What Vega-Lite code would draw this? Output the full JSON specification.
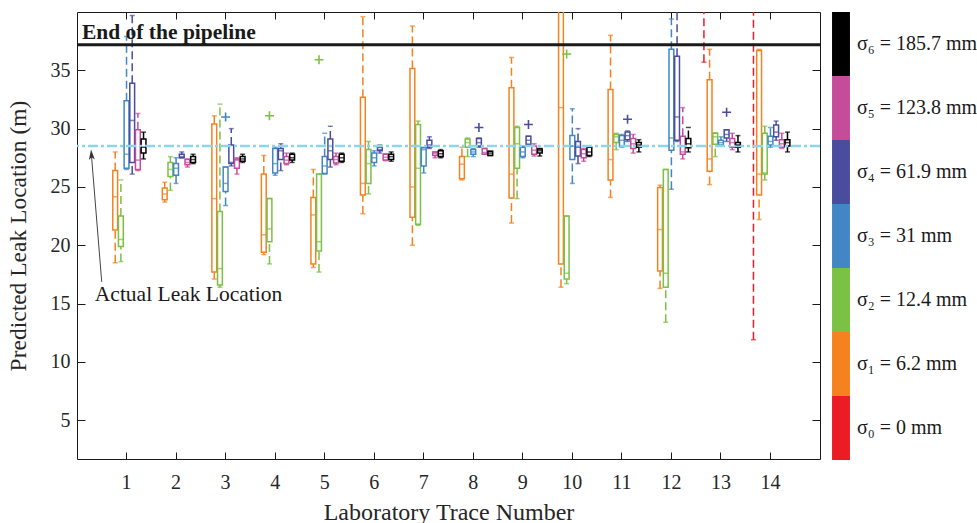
{
  "$schema": "https://vega.github.io/schema/vega-lite/v6.json",
  "width": 743,
  "height": 447,
  "autosize": {"type": "none"},
  "padding": {"left": 77, "top": 12, "right": 157, "bottom": 64},
  "background": "white",
  "datasets": {
    "boxes": [
      {"trace": 1, "sigma": "σ₁ = 6.2 mm", "lo": 18.5, "q1": 21.3, "median": 24.15, "q3": 26.4, "hi": 28.0},
      {"trace": 1, "sigma": "σ₂ = 12.4 mm", "lo": 18.6, "q1": 19.9, "median": 20.5, "q3": 22.5, "hi": 25.6},
      {"trace": 1, "sigma": "σ₃ = 31 mm", "lo": 26.5, "q1": 26.6, "median": 27.8, "q3": 32.4, "hi": 37.9},
      {"trace": 1, "sigma": "σ₄ = 61.9 mm", "lo": 26.1, "q1": 27.1, "median": 30.7, "q3": 33.9, "hi": 39.7},
      {"trace": 1, "sigma": "σ₅ = 123.8 mm", "lo": 26.4, "q1": 26.5, "median": 27.3, "q3": 29.9, "hi": 31.3},
      {"trace": 1, "sigma": "σ₆ = 185.7 mm", "lo": 27.4, "q1": 27.9, "median": 28.4, "q3": 29.1, "hi": 29.7},
      {"trace": 2, "sigma": "σ₁ = 6.2 mm", "lo": 23.7, "q1": 23.9, "median": 24.4, "q3": 24.9, "hi": 25.4},
      {"trace": 2, "sigma": "σ₂ = 12.4 mm", "lo": 24.7, "q1": 25.9, "median": 26.5, "q3": 27.1, "hi": 27.6},
      {"trace": 2, "sigma": "σ₃ = 31 mm", "lo": 25.3, "q1": 26.0, "median": 26.6, "q3": 27.0, "hi": 27.5},
      {"trace": 2, "sigma": "σ₄ = 61.9 mm", "lo": 27.5, "q1": 27.5, "median": 27.6, "q3": 27.8, "hi": 28.0},
      {"trace": 2, "sigma": "σ₅ = 123.8 mm", "lo": 26.7, "q1": 26.9, "median": 27.1, "q3": 27.35, "hi": 27.4},
      {"trace": 2, "sigma": "σ₆ = 185.7 mm", "lo": 27.0, "q1": 27.1, "median": 27.35, "q3": 27.6, "hi": 27.8},
      {"trace": 3, "sigma": "σ₁ = 6.2 mm", "lo": 17.1, "q1": 17.7, "median": 24.0, "q3": 30.4, "hi": 31.1},
      {"trace": 3, "sigma": "σ₂ = 12.4 mm", "lo": 16.4, "q1": 16.6, "median": 18.0, "q3": 22.9, "hi": 32.1},
      {"trace": 3, "sigma": "σ₃ = 31 mm", "lo": 23.4, "q1": 24.6, "median": 25.3, "q3": 26.7, "hi": 26.7},
      {"trace": 3, "sigma": "σ₄ = 61.9 mm", "lo": 26.8, "q1": 27.0, "median": 27.1, "q3": 28.6, "hi": 30.0},
      {"trace": 3, "sigma": "σ₅ = 123.8 mm", "lo": 26.1, "q1": 26.6, "median": 27.3, "q3": 27.4, "hi": 27.5},
      {"trace": 3, "sigma": "σ₆ = 185.7 mm", "lo": 27.1, "q1": 27.2, "median": 27.4, "q3": 27.6, "hi": 27.8},
      {"trace": 4, "sigma": "σ₁ = 6.2 mm", "lo": 19.2, "q1": 19.4, "median": 20.9, "q3": 26.1, "hi": 27.7},
      {"trace": 4, "sigma": "σ₂ = 12.4 mm", "lo": 18.4, "q1": 20.3, "median": 21.4, "q3": 24.0, "hi": 24.0},
      {"trace": 4, "sigma": "σ₃ = 31 mm", "lo": 26.0, "q1": 26.2, "median": 27.0, "q3": 28.3, "hi": 28.4},
      {"trace": 4, "sigma": "σ₄ = 61.9 mm", "lo": 26.4, "q1": 27.35, "median": 28.1, "q3": 28.3, "hi": 28.7},
      {"trace": 4, "sigma": "σ₅ = 123.8 mm", "lo": 26.9, "q1": 27.0, "median": 27.3, "q3": 27.6, "hi": 27.9},
      {"trace": 4, "sigma": "σ₆ = 185.7 mm", "lo": 27.1, "q1": 27.3, "median": 27.5, "q3": 27.8, "hi": 27.9},
      {"trace": 5, "sigma": "σ₁ = 6.2 mm", "lo": 18.1, "q1": 18.4, "median": 22.6, "q3": 24.1, "hi": 26.5},
      {"trace": 5, "sigma": "σ₂ = 12.4 mm", "lo": 17.7, "q1": 19.5, "median": 20.3, "q3": 26.1, "hi": 26.1},
      {"trace": 5, "sigma": "σ₃ = 31 mm", "lo": 26.1, "q1": 26.15, "median": 26.8, "q3": 27.6, "hi": 29.6},
      {"trace": 5, "sigma": "σ₄ = 61.9 mm", "lo": 26.7, "q1": 27.35, "median": 28.1, "q3": 29.1, "hi": 30.2},
      {"trace": 5, "sigma": "σ₅ = 123.8 mm", "lo": 26.9, "q1": 27.05, "median": 27.35, "q3": 27.6, "hi": 27.9},
      {"trace": 5, "sigma": "σ₆ = 185.7 mm", "lo": 27.1, "q1": 27.2, "median": 27.5, "q3": 27.8, "hi": 27.9},
      {"trace": 6, "sigma": "σ₁ = 6.2 mm", "lo": 22.7, "q1": 24.3, "median": 25.3, "q3": 32.7, "hi": 39.6},
      {"trace": 6, "sigma": "σ₂ = 12.4 mm", "lo": 24.4, "q1": 25.3, "median": 27.0, "q3": 28.2, "hi": 28.9},
      {"trace": 6, "sigma": "σ₃ = 31 mm", "lo": 26.8, "q1": 27.1, "median": 27.5, "q3": 27.9, "hi": 28.1},
      {"trace": 6, "sigma": "σ₄ = 61.9 mm", "lo": 27.9, "q1": 28.1, "median": 28.2, "q3": 28.4, "hi": 28.6},
      {"trace": 6, "sigma": "σ₅ = 123.8 mm", "lo": 27.25, "q1": 27.3, "median": 27.55, "q3": 27.8, "hi": 27.85},
      {"trace": 6, "sigma": "σ₆ = 185.7 mm", "lo": 27.2, "q1": 27.35, "median": 27.6, "q3": 27.8, "hi": 28.0},
      {"trace": 7, "sigma": "σ₁ = 6.2 mm", "lo": 20.0, "q1": 22.4, "median": 25.0, "q3": 35.15, "hi": 38.8},
      {"trace": 7, "sigma": "σ₂ = 12.4 mm", "lo": 21.7, "q1": 21.8, "median": 26.6, "q3": 30.35, "hi": 30.65},
      {"trace": 7, "sigma": "σ₃ = 31 mm", "lo": 26.2, "q1": 26.8, "median": 28.2, "q3": 28.35, "hi": 28.4},
      {"trace": 7, "sigma": "σ₄ = 61.9 mm", "lo": 28.3, "q1": 28.4, "median": 28.6, "q3": 29.0, "hi": 29.3},
      {"trace": 7, "sigma": "σ₅ = 123.8 mm", "lo": 27.5, "q1": 27.7, "median": 27.85, "q3": 28.0, "hi": 28.0},
      {"trace": 7, "sigma": "σ₆ = 185.7 mm", "lo": 27.5, "q1": 27.6, "median": 27.85, "q3": 28.1, "hi": 28.2},
      {"trace": 8, "sigma": "σ₁ = 6.2 mm", "lo": 25.6, "q1": 25.7, "median": 26.95, "q3": 27.6, "hi": 28.4},
      {"trace": 8, "sigma": "σ₂ = 12.4 mm", "lo": 27.6, "q1": 28.4, "median": 28.8, "q3": 29.1, "hi": 29.2},
      {"trace": 8, "sigma": "σ₃ = 31 mm", "lo": 27.6, "q1": 27.8, "median": 28.0, "q3": 28.2, "hi": 28.3},
      {"trace": 8, "sigma": "σ₄ = 61.9 mm", "lo": 28.4, "q1": 28.5, "median": 28.8, "q3": 29.15, "hi": 29.2},
      {"trace": 8, "sigma": "σ₅ = 123.8 mm", "lo": 27.8, "q1": 27.8, "median": 27.95, "q3": 28.3, "hi": 28.3},
      {"trace": 8, "sigma": "σ₆ = 185.7 mm", "lo": 27.7, "q1": 27.7, "median": 27.9, "q3": 28.05, "hi": 28.05},
      {"trace": 9, "sigma": "σ₁ = 6.2 mm", "lo": 21.9, "q1": 24.05, "median": 26.1, "q3": 33.5, "hi": 36.1},
      {"trace": 9, "sigma": "σ₂ = 12.4 mm", "lo": 24.0, "q1": 26.6, "median": 28.7, "q3": 30.1, "hi": 30.2},
      {"trace": 9, "sigma": "σ₃ = 31 mm", "lo": 27.5, "q1": 27.6, "median": 28.0, "q3": 28.4, "hi": 28.5},
      {"trace": 9, "sigma": "σ₄ = 61.9 mm", "lo": 28.6, "q1": 28.65, "median": 29.0, "q3": 29.35, "hi": 29.35},
      {"trace": 9, "sigma": "σ₅ = 123.8 mm", "lo": 27.65, "q1": 27.8, "median": 28.15, "q3": 28.5, "hi": 28.7},
      {"trace": 9, "sigma": "σ₆ = 185.7 mm", "lo": 27.65, "q1": 27.9, "median": 28.1, "q3": 28.25, "hi": 28.3},
      {"trace": 10, "sigma": "σ₁ = 6.2 mm", "lo": 16.4, "q1": 18.4, "median": 31.8, "q3": 45.0, "hi": 48.0},
      {"trace": 10, "sigma": "σ₂ = 12.4 mm", "lo": 16.7, "q1": 17.1, "median": 17.6, "q3": 22.5, "hi": 22.5},
      {"trace": 10, "sigma": "σ₃ = 31 mm", "lo": 25.3, "q1": 27.35, "median": 28.5, "q3": 29.4, "hi": 31.7},
      {"trace": 10, "sigma": "σ₄ = 61.9 mm", "lo": 27.0, "q1": 27.65, "median": 28.4, "q3": 28.9, "hi": 30.0},
      {"trace": 10, "sigma": "σ₅ = 123.8 mm", "lo": 27.2, "q1": 27.5, "median": 27.85, "q3": 28.2, "hi": 28.3},
      {"trace": 10, "sigma": "σ₆ = 185.7 mm", "lo": 27.6, "q1": 27.7, "median": 28.0, "q3": 28.4, "hi": 28.5},
      {"trace": 11, "sigma": "σ₁ = 6.2 mm", "lo": 24.1, "q1": 25.6, "median": 27.35, "q3": 33.35, "hi": 38.0},
      {"trace": 11, "sigma": "σ₂ = 12.4 mm", "lo": 28.2, "q1": 28.8, "median": 29.3, "q3": 29.5, "hi": 29.6},
      {"trace": 11, "sigma": "σ₃ = 31 mm", "lo": 28.4, "q1": 28.5, "median": 29.0, "q3": 29.4, "hi": 29.5},
      {"trace": 11, "sigma": "σ₄ = 61.9 mm", "lo": 28.9, "q1": 29.05, "median": 29.4, "q3": 29.7, "hi": 29.8},
      {"trace": 11, "sigma": "σ₅ = 123.8 mm", "lo": 27.9, "q1": 28.3, "median": 28.7, "q3": 29.15, "hi": 29.5},
      {"trace": 11, "sigma": "σ₆ = 185.7 mm", "lo": 28.0, "q1": 28.4, "median": 28.6, "q3": 28.8, "hi": 29.05},
      {"trace": 12, "sigma": "σ₁ = 6.2 mm", "lo": 16.3, "q1": 17.8, "median": 21.35, "q3": 24.95, "hi": 25.15},
      {"trace": 12, "sigma": "σ₂ = 12.4 mm", "lo": 13.4, "q1": 16.4, "median": 17.6, "q3": 26.5, "hi": 26.5},
      {"trace": 12, "sigma": "σ₃ = 31 mm", "lo": 24.8, "q1": 28.15, "median": 29.2, "q3": 36.8, "hi": 39.4},
      {"trace": 12, "sigma": "σ₄ = 61.9 mm", "lo": 28.9, "q1": 29.0, "median": 31.0, "q3": 36.2, "hi": 41.0},
      {"trace": 12, "sigma": "σ₅ = 123.8 mm", "lo": 27.4, "q1": 27.8, "median": 28.0, "q3": 29.35, "hi": 31.8},
      {"trace": 12, "sigma": "σ₆ = 185.7 mm", "lo": 28.0, "q1": 28.35, "median": 28.7, "q3": 29.15, "hi": 30.1},
      {"trace": 13, "sigma": "σ₀ = 0 mm", "lo": 35.7, "q1": 41.0, "median": 42.0, "q3": 43.0, "hi": 45.0},
      {"trace": 13, "sigma": "σ₁ = 6.2 mm", "lo": 25.2, "q1": 26.35, "median": 27.4, "q3": 34.2, "hi": 36.8},
      {"trace": 13, "sigma": "σ₂ = 12.4 mm", "lo": 27.6, "q1": 28.65, "median": 29.3, "q3": 29.6, "hi": 29.65},
      {"trace": 13, "sigma": "σ₃ = 31 mm", "lo": 28.5, "q1": 28.6, "median": 28.8, "q3": 29.0, "hi": 29.3},
      {"trace": 13, "sigma": "σ₄ = 61.9 mm", "lo": 28.9, "q1": 29.2, "median": 29.5, "q3": 29.9, "hi": 29.9},
      {"trace": 13, "sigma": "σ₅ = 123.8 mm", "lo": 28.2, "q1": 28.4, "median": 28.8, "q3": 29.15, "hi": 29.6},
      {"trace": 13, "sigma": "σ₆ = 185.7 mm", "lo": 28.0, "q1": 28.4, "median": 28.6, "q3": 28.8, "hi": 29.4},
      {"trace": 14, "sigma": "σ₀ = 0 mm", "lo": 11.9, "q1": 41.0, "median": 42.0, "q3": 43.0, "hi": 45.0},
      {"trace": 14, "sigma": "σ₁ = 6.2 mm", "lo": 22.2, "q1": 24.3, "median": 26.1, "q3": 36.7, "hi": 36.8},
      {"trace": 14, "sigma": "σ₂ = 12.4 mm", "lo": 25.6, "q1": 26.1, "median": 26.2, "q3": 29.6, "hi": 30.2},
      {"trace": 14, "sigma": "σ₃ = 31 mm", "lo": 28.4, "q1": 28.6, "median": 28.9, "q3": 29.35, "hi": 30.1},
      {"trace": 14, "sigma": "σ₄ = 61.9 mm", "lo": 29.0, "q1": 29.3, "median": 29.7, "q3": 30.3, "hi": 30.65},
      {"trace": 14, "sigma": "σ₅ = 123.8 mm", "lo": 28.3, "q1": 28.4, "median": 28.7, "q3": 29.05, "hi": 29.6},
      {"trace": 14, "sigma": "σ₆ = 185.7 mm", "lo": 28.0, "q1": 28.5, "median": 28.8, "q3": 29.05, "hi": 29.7}
    ],
    "outliers": [
      {"trace": 3, "sigma": "σ₃ = 31 mm", "value": 31.0},
      {"trace": 4, "sigma": "σ₂ = 12.4 mm", "value": 31.1},
      {"trace": 5, "sigma": "σ₂ = 12.4 mm", "value": 35.9},
      {"trace": 8, "sigma": "σ₄ = 61.9 mm", "value": 30.1},
      {"trace": 9, "sigma": "σ₄ = 61.9 mm", "value": 30.35},
      {"trace": 10, "sigma": "σ₂ = 12.4 mm", "value": 36.4},
      {"trace": 11, "sigma": "σ₄ = 61.9 mm", "value": 30.8},
      {"trace": 13, "sigma": "σ₄ = 61.9 mm", "value": 31.4}
    ]
  },
  "layer": [
    {
      "encoding": {
        "x": {"field": "trace", "type": "ordinal", "title": "Laboratory Trace Number", "scale": {"type": "band", "paddingInner": 0, "paddingOuter": 0.5}, "axis": {"labelAngle": 0, "labelPadding": 20, "titlePadding": 8, "titleFontSize": 24}},
        "xOffset": {"field": "sigma", "type": "nominal", "scale": {"type": "band", "paddingInner": 0.15, "paddingOuter": 0.9425, "domain": ["σ₀ = 0 mm", "σ₁ = 6.2 mm", "σ₂ = 12.4 mm", "σ₃ = 31 mm", "σ₄ = 61.9 mm", "σ₅ = 123.8 mm", "σ₆ = 185.7 mm"]}},
        "color": {"field": "sigma", "type": "nominal",
          "scale": {"domain": ["σ₆ = 185.7 mm", "σ₅ = 123.8 mm", "σ₄ = 61.9 mm", "σ₃ = 31 mm", "σ₂ = 12.4 mm", "σ₁ = 6.2 mm", "σ₀ = 0 mm"], "range": ["#000000", "#c54b9b", "#4a4d9e", "#4286c6", "#7bc144", "#f6821f", "#ec1c24"]},
          "legend": {"title": null, "orient": "none", "legendX": 732, "legendY": 0, "padding": 0, "rowPadding": 0, "symbolType": "M-0.28,-1H0.28V1H-0.28Z", "symbolSize": 4096, "symbolStrokeWidth": 0, "labelFont": "Liberation Serif", "labelFontSize": 20, "labelColor": "#1a1a1a", "labelOffset": -16,
            "encode": {"symbols": {"update": {"fill": {"scale": "color", "field": "value"}, "fillOpacity": {"value": 1}, "strokeWidth": {"value": 0}}}}}}
      },
      "layer": [
        {
          "data": {"name": "boxes"},
          "layer": [
            {"mark": {"type": "rule", "strokeDash": [8, 4], "strokeWidth": 1.5, "clip": true},
             "encoding": {"y": {"field": "lo", "type": "quantitative", "title": "Predicted Leak Location (m)", "scale": {"domain": [1.67, 40], "nice": false, "zero": false}, "axis": {"values": [5, 10, 15, 20, 25, 30, 35], "labelPadding": 15, "titlePadding": 20, "titleFontSize": 23.5}}, "y2": {"field": "q1"}}},
            {"mark": {"type": "rule", "strokeDash": [8, 4], "strokeWidth": 1.5, "clip": true},
             "encoding": {"y": {"field": "q3", "type": "quantitative", "title": "Predicted Leak Location (m)"}, "y2": {"field": "hi"}}},
            {"mark": {"type": "tick", "orient": "horizontal", "size": 5, "thickness": 1.5, "clip": true},
             "encoding": {"y": {"field": "lo", "type": "quantitative", "title": "Predicted Leak Location (m)"}}},
            {"mark": {"type": "tick", "orient": "horizontal", "size": 5, "thickness": 1.5, "clip": true},
             "encoding": {"y": {"field": "hi", "type": "quantitative", "title": "Predicted Leak Location (m)"}}},
            {"mark": {"type": "bar", "orient": "vertical", "filled": false, "strokeWidth": 1.5, "clip": true},
             "encoding": {"y": {"field": "q1", "type": "quantitative", "title": "Predicted Leak Location (m)"}, "y2": {"field": "q3"}}}
          ]
        },
        {
          "data": {"name": "outliers"},
          "mark": {"type": "point", "shape": "M-1,0H1M0,-1V1", "filled": false, "size": 80, "strokeWidth": 1.6, "opacity": 1, "clip": true},
          "encoding": {
            "y": {"field": "value", "type": "quantitative", "title": "Predicted Leak Location (m)"}
          }
        }
      ]
    },
    {
      "data": {"values": [{}]},
      "layer": [
        {"mark": {"type": "rule", "color": "#8dd6ea", "strokeWidth": 2.5, "strokeDash": [10, 3, 3, 3]}, "encoding": {"y": {"datum": 28.5, "axis": null}}},
        {"mark": {"type": "rule", "color": "#1a1a1a", "strokeWidth": 3}, "encoding": {"y": {"datum": 37.2, "axis": null}}},
        {"mark": {"type": "text", "text": "End of the pipeline", "align": "left", "baseline": "middle", "font": "Liberation Serif", "fontSize": 21.5, "fontWeight": "bold", "color": "#1a1a1a"},
         "encoding": {"x": {"datum": 0.1, "type": "quantitative", "scale": {"domain": [0, 15], "nice": false, "zero": false}, "axis": null}, "y": {"datum": 38.2, "axis": null}}},
        {"mark": {"type": "text", "text": "Actual Leak Location", "align": "left", "baseline": "middle", "font": "Liberation Serif", "fontSize": 21.5, "color": "#1a1a1a"},
         "encoding": {"x": {"datum": 0.36, "type": "quantitative", "axis": null}, "y": {"datum": 15.72, "axis": null}}},
        {"mark": {"type": "rule", "color": "#444444", "strokeWidth": 1},
         "encoding": {"x": {"datum": 0.499, "type": "quantitative", "axis": null}, "x2": {"datum": 0.292}, "y": {"datum": 16.86, "axis": null}, "y2": {"datum": 27.7}}},
        {"mark": {"type": "point", "shape": "M0,-1L0.5,0.7L0,0.3L-0.5,0.7Z", "size": 144, "filled": true, "color": "#333333", "opacity": 1, "angle": 355.4},
         "encoding": {"x": {"datum": 0.293, "type": "quantitative", "axis": null}, "y": {"datum": 27.69, "axis": null}}}
      ]
    },
    {
      "data": {"name": "boxes"},
      "mark": {"type": "tick", "orient": "horizontal", "size": 5, "thickness": 1.5, "clip": true},
      "encoding": {
        "x": {"field": "trace", "type": "ordinal", "scale": {"type": "band", "paddingInner": 0, "paddingOuter": 0.5}, "axis": {"orient": "top", "labels": false, "title": null}},
        "xOffset": {"field": "sigma", "type": "nominal", "scale": {"type": "band", "paddingInner": 0.15, "paddingOuter": 0.9425, "domain": ["σ₀ = 0 mm", "σ₁ = 6.2 mm", "σ₂ = 12.4 mm", "σ₃ = 31 mm", "σ₄ = 61.9 mm", "σ₅ = 123.8 mm", "σ₆ = 185.7 mm"]}},
        "y": {"field": "median", "type": "quantitative", "axis": {"orient": "right", "values": [5, 10, 15, 20, 25, 30, 35], "labels": false, "title": null}},
        "color": {"field": "sigma", "type": "nominal"}
      }
    }
  ],
  "resolve": {"scale": {"x": "independent", "xOffset": "independent"}, "axis": {"x": "independent", "y": "independent"}},
  "config": {
    "view": {"stroke": null},
    "font": "Liberation Serif",
    "axis": {"domainColor": "#1a1a1a", "domainWidth": 1, "tickColor": "#1a1a1a", "tickWidth": 1, "labelFont": "Liberation Serif", "labelFontSize": 20, "labelColor": "#262626", "titleFont": "Liberation Serif", "titleFontSize": 22, "titleFontWeight": "normal", "titleColor": "#262626", "grid": false},
    "axisX": {"tickSize": -7},
    "axisY": {"tickSize": -8}
  }
}
